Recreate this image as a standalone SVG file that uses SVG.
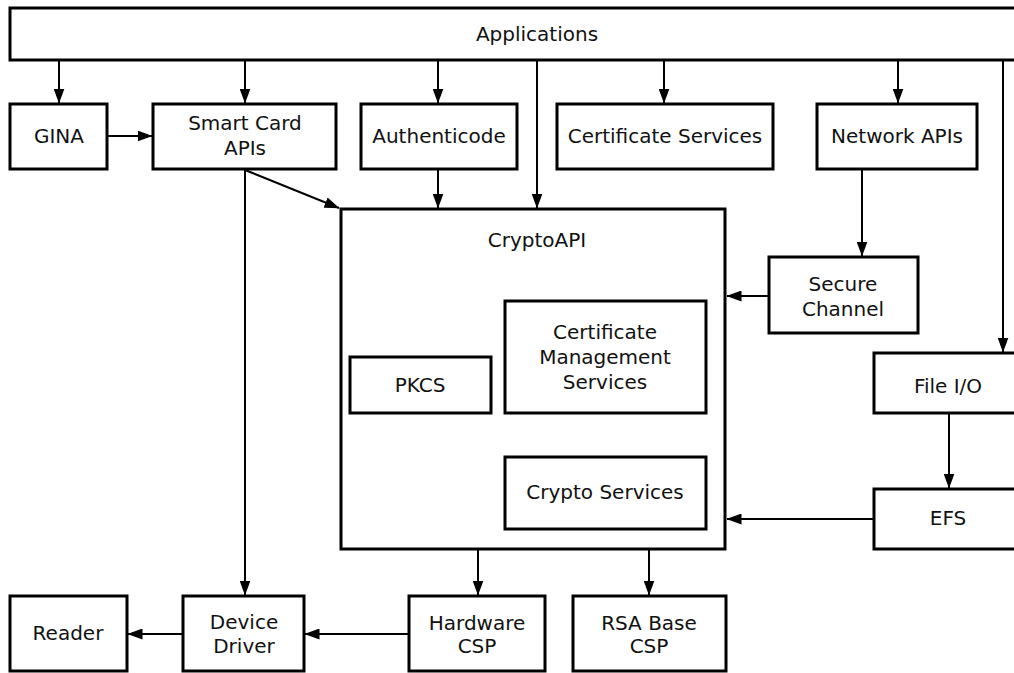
<svg xmlns="http://www.w3.org/2000/svg" width="1014" height="673" viewBox="0 0 1014 673">
<defs>
<marker id="ah" viewBox="0 0 15 11" refX="14.5" refY="5.5" markerWidth="15" markerHeight="11" markerUnits="userSpaceOnUse" orient="auto">
<path d="M0,0 L15,5.5 L0,11 Z" fill="#000"/>
</marker>
</defs>
<style>
.box{fill:#fff;stroke:#000;stroke-width:3}
.t{font-family:"DejaVu Sans",sans-serif;font-size:20px;fill:#111;text-anchor:middle}
.c{fill:none;stroke:#000;stroke-width:2;marker-end:url(#ah)}
</style>
<rect width="1014" height="673" fill="#fff"/>
<g id="applications"><rect class="box" x="10" y="8" width="1020" height="52"/><text class="t" x="537" y="41">Applications</text></g>
<g id="gina"><rect class="box" x="10" y="104" width="97" height="65"/><text class="t" x="59" y="143">GINA</text></g>
<g id="smartcard"><rect class="box" x="153" y="104" width="183" height="65"/><text class="t" x="245" y="130">Smart Card</text><text class="t" x="245" y="155">APIs</text></g>
<g id="authenticode"><rect class="box" x="361" y="104" width="156" height="65"/><text class="t" x="439" y="143">Authenticode</text></g>
<g id="certservices"><rect class="box" x="557" y="104" width="216" height="65"/><text class="t" x="665" y="143">Certificate Services</text></g>
<g id="networkapis"><rect class="box" x="817" y="104" width="160" height="65"/><text class="t" x="897" y="143">Network APIs</text></g>
<g id="cryptoapi"><rect class="box" x="341" y="209" width="384" height="340"/><text class="t" x="537" y="247">CryptoAPI</text></g>
<g id="pkcs"><rect class="box" x="350" y="357" width="141" height="56"/><text class="t" x="420" y="392">PKCS</text></g>
<g id="certmgmt"><rect class="box" x="505" y="301" width="201" height="112"/><text class="t" x="605" y="339">Certificate</text><text class="t" x="605" y="364">Management</text><text class="t" x="605" y="389">Services</text></g>
<g id="cryptoservices"><rect class="box" x="505" y="457" width="201" height="72"/><text class="t" x="605" y="499">Crypto Services</text></g>
<g id="securechannel"><rect class="box" x="769" y="257" width="149" height="76"/><text class="t" x="843" y="291">Secure</text><text class="t" x="843" y="316">Channel</text></g>
<g id="fileio"><rect class="box" x="874" y="353" width="150" height="60"/><text class="t" x="948" y="393">File I/O</text></g>
<g id="efs"><rect class="box" x="874" y="489" width="150" height="60"/><text class="t" x="948" y="525">EFS</text></g>
<g id="reader"><rect class="box" x="10" y="596" width="117" height="75"/><text class="t" x="68" y="640">Reader</text></g>
<g id="devicedriver"><rect class="box" x="183" y="596" width="121" height="75"/><text class="t" x="244" y="629">Device</text><text class="t" x="244" y="653">Driver</text></g>
<g id="hardwarecsp"><rect class="box" x="409" y="596" width="136" height="75"/><text class="t" x="477" y="630">Hardware</text><text class="t" x="477" y="653">CSP</text></g>
<g id="rsabasecsp"><rect class="box" x="573" y="596" width="153" height="75"/><text class="t" x="649" y="630">RSA Base</text><text class="t" x="649" y="653">CSP</text></g>
<g id="connectors">
<path class="c" d="M59,61 V103"/>
<path class="c" d="M245,61 V103"/>
<path class="c" d="M438,61 V103"/>
<path class="c" d="M664,61 V103"/>
<path class="c" d="M898,61 V103"/>
<path class="c" d="M537,61 V208"/>
<path class="c" d="M1003,61 V352"/>
<path class="c" d="M108,136 H152"/>
<path class="c" d="M438,170 V208"/>
<path class="c" d="M245,170 L339,208"/>
<path class="c" d="M245,170 V595"/>
<path class="c" d="M862,170 V256"/>
<path class="c" d="M768,296 H727"/>
<path class="c" d="M949,414 V488"/>
<path class="c" d="M873,519 H727"/>
<path class="c" d="M478,550 V595"/>
<path class="c" d="M649,550 V595"/>
<path class="c" d="M408,634 H305"/>
<path class="c" d="M182,634 H128"/>
</g>
</svg>
